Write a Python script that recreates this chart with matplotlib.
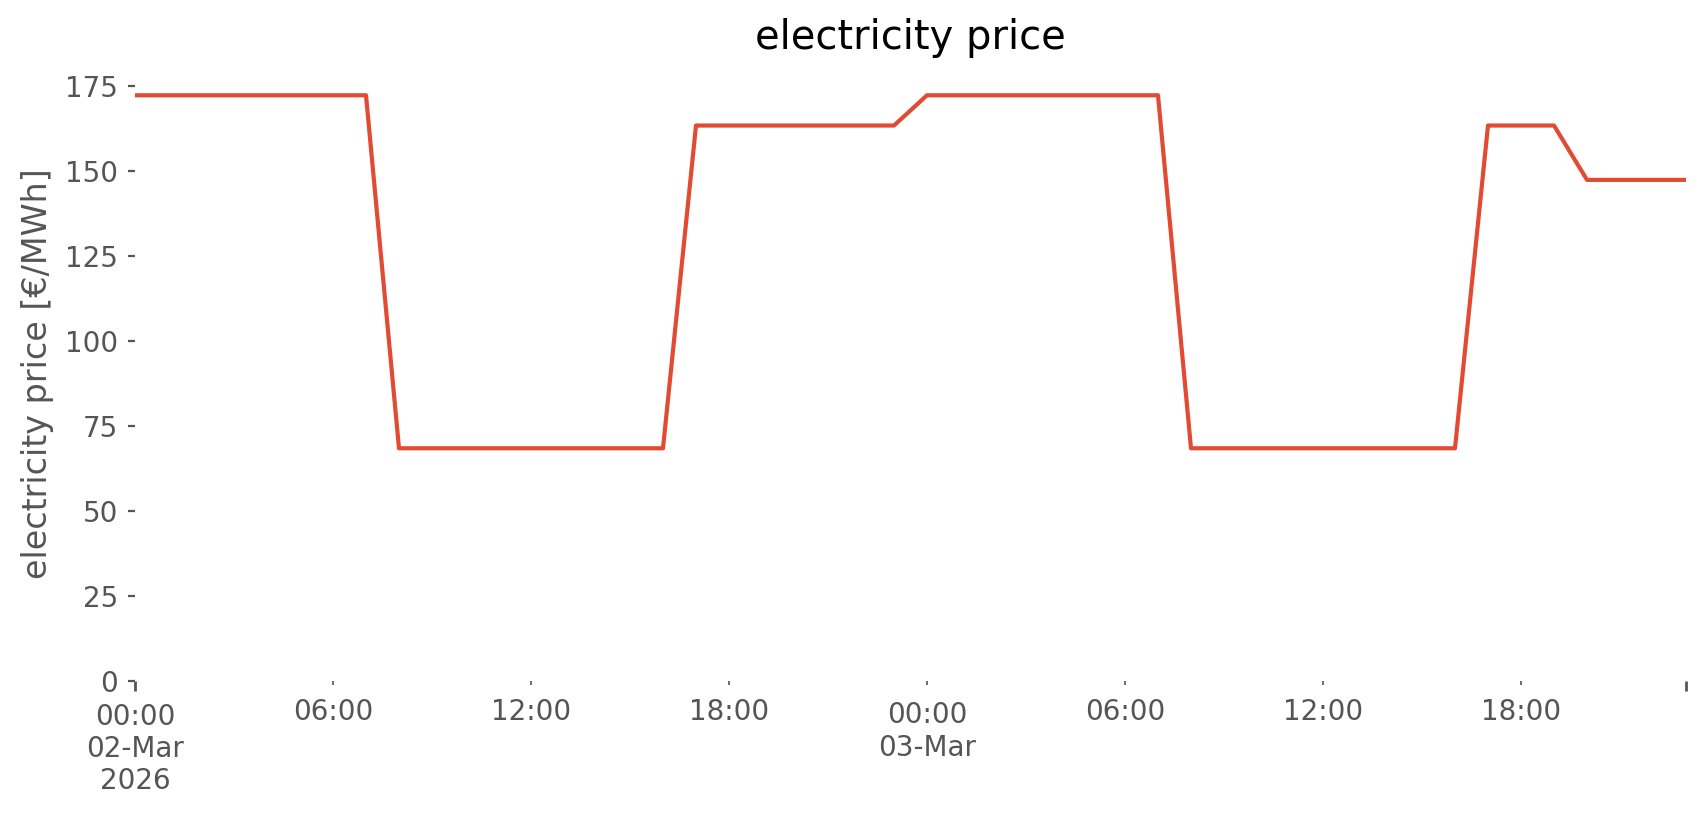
import matplotlib
matplotlib.use("Agg")
import matplotlib.pyplot as plt
import matplotlib.dates as mdates
import matplotlib.transforms as mtransforms
import pandas as pd
import numpy as np

# data: hourly electricity price, 02-Mar-2026 00:00 .. 03-Mar-2026 23:00
start = "2026-03-02 00:00"
day1_prices = [172.4]*8 + [68.5]*9 + [163.5]*7
day2_prices = [172.4]*8 + [68.5]*9 + [163.5]*3 + [147.5]*4
prices = day1_prices + day2_prices
times = pd.date_range(start, periods=len(prices), freq="h")

title = "electricity price"
ylabel = "electricity price [€/MWh]"
yticks = [0, 25, 50, 75, 100, 125, 150, 175]

plt.style.use("ggplot")
plt.rcParams['font.family'] = ['DejaVu Sans']

fig = plt.figure(figsize=(1706/200, 815/200), dpi=200)
ax = fig.add_axes([135/1706, 1-681/815, (1686-135)/1706, (681-66)/815])
ax.set_facecolor("white")
ax.grid(False)
for s in ax.spines.values():
    s.set_visible(False)

ax.plot(times.to_pydatetime(), prices, color="#E24A33", linewidth=1.5)

ax.set_xlim(times[0].to_pydatetime(), times[-1].to_pydatetime())
ax.set_ylim(0, max(prices)*1.05)
ax.set_yticks(yticks)
ax.set_title(title, fontsize=14.4, color="black")
ax.set_ylabel(ylabel, fontsize=12, color="#555555")

# major ticks at ends, minor every 6 hours
major = [times[0], times[-1]]
ax.set_xticks([mdates.date2num(t.to_pydatetime()) for t in major])
ax.set_xticklabels([times[0].strftime("%H:%M\n%d-%b\n%Y"), ""])
minor = [t for t in times if t.hour % 6 == 0 and t != times[0]]
ax.set_xticks([mdates.date2num(t.to_pydatetime()) for t in minor], minor=True)
ax.set_xticklabels([t.strftime("%H:%M\n%d-%b") if t.hour == 0 else t.strftime("%H:%M") for t in minor], minor=True)

ax.tick_params(axis="x", which="major", direction="out", length=3.5, width=1.0, color="#555555", labelcolor="#555555", labelsize=10, pad=4.3)
ax.tick_params(axis="x", which="minor", direction="out", length=1.5, width=0.6, color="#555555", labelcolor="#555555", labelsize=10, pad=4.5)
ax.tick_params(axis="y", which="major", direction="out", length=2.5, width=0.8, color="#555555", labelcolor="#555555", labelsize=10)

# multi-line minor labels sit slightly lower
for lbl in ax.get_xticklabels(minor=True):
    if "\n" in lbl.get_text():
        lbl.set_transform(lbl.get_transform() + mtransforms.ScaledTranslation(0, -1.3/72, fig.dpi_scale_trans))

fig.savefig("out.png", dpi=200, facecolor="white")
